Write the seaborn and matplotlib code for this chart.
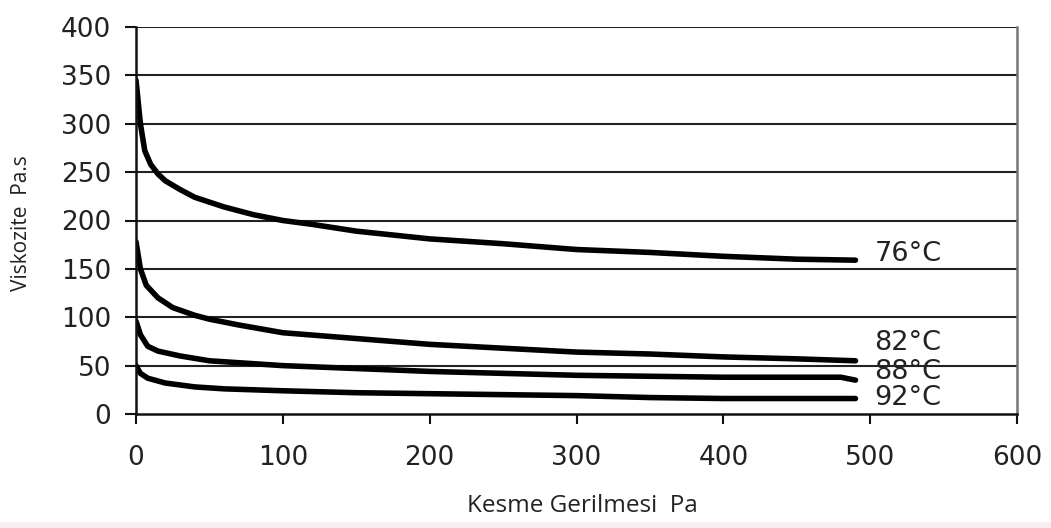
import matplotlib
matplotlib.use("Agg")
import matplotlib.pyplot as plt
import seaborn as sns
import pandas as pd
from matplotlib.patches import Rectangle

# ---- data ----
x76 = [0, 3, 6, 10, 15, 20, 30, 40, 50, 60, 80, 100, 120, 150, 200, 250, 300, 350, 400, 450, 490]
y76 = [345, 300, 272, 258, 248, 241, 232, 224, 219, 214, 206, 200, 196, 189, 181, 176, 170, 167, 163, 160, 159]

x82 = [0, 3, 7, 15, 25, 40, 50, 70, 100, 150, 200, 250, 300, 350, 400, 450, 490]
y82 = [178, 150, 133, 120, 110, 102, 98, 92, 84, 78, 72, 68, 64, 62, 59, 57, 55]

x88 = [0, 3, 8, 15, 30, 50, 100, 150, 200, 250, 300, 400, 480, 490]
y88 = [96, 82, 70, 65, 60, 55, 50, 47, 44, 42, 40, 38, 38, 35]

x92 = [0, 3, 8, 20, 40, 60, 100, 150, 200, 300, 350, 400, 490]
y92 = [50, 42, 37, 32, 28, 26, 24, 22, 21, 19, 17, 16, 16]

series_names = ["76°C", "82°C", "88°C", "92°C"]
label_y = [165, 73, 43, 16.5]
label_x = 503

xticks = [0, 100, 200, 300, 400, 500, 600]
yticks = [0, 50, 100, 150, 200, 250, 300, 350, 400]

frames = []
for name, xs, ys in zip(series_names, [x76, x82, x88, x92], [y76, y82, y88, y92]):
    frames.append(pd.DataFrame({"x": xs, "y": ys, "series": name}))
df = pd.concat(frames, ignore_index=True)

# ---- plot ----
sns.set_style("white")
plt.rcParams["font.family"] = ["DejaVu Sans"]

fig = plt.figure(figsize=(10.51, 5.28), dpi=100)
ax = fig.add_axes([136 / 1051, 1 - 414 / 528, (1017 - 136) / 1051, (414 - 27) / 528])

sns.lineplot(data=df, x="x", y="y", units="series", estimator=None,
             color="black", linewidth=4.0, ax=ax, sort=False)

ax.set_xlim(0, 600)
ax.set_ylim(0, 400)
ax.set_xticks(xticks)
ax.set_yticks(yticks)
ax.set_xticklabels([str(v) for v in xticks])
ax.set_yticklabels([str(v) for v in yticks])

for yv in yticks[1:]:
    ax.axhline(yv, color="#222222", linewidth=1.5, zorder=0.5)

for side in ["left", "bottom"]:
    ax.spines[side].set_color("#111111")
    ax.spines[side].set_linewidth(1.8)
ax.spines["top"].set_visible(False)
ax.spines["right"].set_color("#777777")
ax.spines["right"].set_linewidth(1.8)

ax.tick_params(axis="y", direction="out", length=8, width=1.5, pad=10,
               labelsize=19, colors="#111111", left=True)
ax.tick_params(axis="x", direction="out", length=7, width=1.5, pad=15,
               labelsize=19, colors="#111111", bottom=True)
for lbl in ax.get_xticklabels() + ax.get_yticklabels():
    lbl.set_color("#222222")

for name, ly in zip(series_names, label_y):
    ax.text(label_x, ly, name, fontsize=19.5, color="#222222", va="center", ha="left")

ax.set_xlabel("")
ax.set_ylabel("")
fig.text(582 / 1051, 1 - 506 / 528, "Kesme Gerilmesi  Pa", fontsize=17.5,
         family=["Open Sans", "DejaVu Sans"], color="#222222", ha="center", va="center")
fig.text(22 / 1051, 1 - 223 / 528, "Viskozite  Pa.s", fontsize=15, rotation=90,
         family=["Open Sans", "DejaVu Sans"], color="#222222", ha="center", va="center")

# faint strip at the very bottom of the screenshot
fig.patches.append(Rectangle((0, 0), 1, 6 / 528, transform=fig.transFigure,
                             facecolor="#f6eef2", edgecolor="none"))

fig.savefig("out.png", dpi=100)
